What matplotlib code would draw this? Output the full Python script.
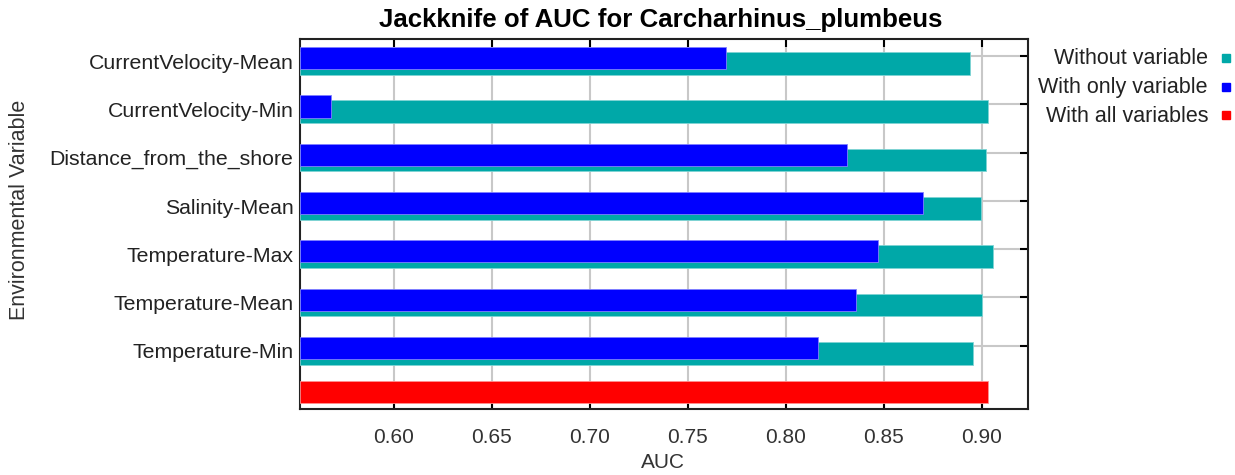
import matplotlib
matplotlib.use("Agg")
import matplotlib.pyplot as plt
import numpy as np

variables = ["CurrentVelocity-Mean", "CurrentVelocity-Min", "Distance_from_the_shore",
             "Salinity-Mean", "Temperature-Max", "Temperature-Mean", "Temperature-Min"]
without_variable = [0.894, 0.903, 0.902, 0.8996, 0.9059, 0.9003, 0.8957]
with_only_variable = [0.7694, 0.568, 0.8311, 0.8699, 0.847, 0.8359, 0.8166]
with_all_variables = 0.9030
xticks = [0.60, 0.65, 0.70, 0.75, 0.80, 0.85, 0.90]

plt.rcParams['font.family'] = ['Liberation Sans', 'DejaVu Sans']

TEAL = '#00A8A8'
BLUE = '#0000FF'
RED = '#FF0000'

fig = plt.figure(figsize=(12.35, 4.75), dpi=100)
ax = fig.add_axes([300/1235, 1-409/475, 728/1235, 370/475])

y = np.arange(len(variables))
xmin = 0.5522
ax.barh(y + 0.155, np.array(without_variable) - xmin, left=xmin, height=0.47,
        color=TEAL, edgecolor='#7fd4d4', linewidth=0.6, zorder=3)
ax.barh(y + 0.045, np.array(with_only_variable) - xmin, left=xmin, height=0.46,
        color=BLUE, edgecolor='#8080ff', linewidth=0.6, zorder=4)
ax.barh([len(variables) - 0.045], [with_all_variables - xmin], left=xmin, height=0.46,
        color=RED, edgecolor='#ff9090', linewidth=0.6, zorder=3)

ax.set_xlim(xmin, 0.9236)
ax.set_ylim(7.31, -0.352)
ax.set_xticks(xticks)
ax.set_xticklabels([f"{v:.2f}" for v in xticks], fontsize=15, color='#333333')
ax.set_yticks(y)
ax.set_yticklabels([])
for i, name in enumerate(variables):
    ax.text(-0.009, i + 0.15, name, transform=ax.get_yaxis_transform(),
            ha='right', va='center', fontsize=15.3, color='#222222')

ax.grid(True, color='#c8c8c8', linewidth=1.5, zorder=0)
ax.set_axisbelow(True)
ax.tick_params(axis='x', direction='in', top=True, bottom=True, length=6, width=1.5,
               pad=14, labelsize=15)
ax.tick_params(axis='y', direction='in', left=False, right=True, length=6, width=1.5)
for s in ax.spines.values():
    s.set_linewidth(1.5)
    s.set_color('#222222')

fig.text(661/1235, 1-20/475, "Jackknife of AUC for Carcharhinus_plumbeus", fontsize=18.6,
         fontweight='bold', ha='center', va='center')
fig.text(663/1235, 1-463/475, "AUC", ha='center', va='center', fontsize=15, color='#333333')
fig.text(20/1235, 1-210/475, "Environmental Variable", rotation=90, ha='center',
         va='center', fontsize=15.5, color='#333333')

legend_items = [("Without variable", TEAL), ("With only variable", BLUE),
                ("With all variables", RED)]
for k, (lab, col) in enumerate(legend_items):
    yy = 1 - (59 + 28.5 * k) / 475
    fig.text(1208/1235, yy, lab, ha='right', va='center', fontsize=15.5, color='#222222')
    fig.patches.append(plt.Rectangle((1222/1235, yy - 3/475), 8/1235, 8/475,
                                     transform=fig.transFigure, color=col, figure=fig))

fig.savefig("out.png", dpi=100)
